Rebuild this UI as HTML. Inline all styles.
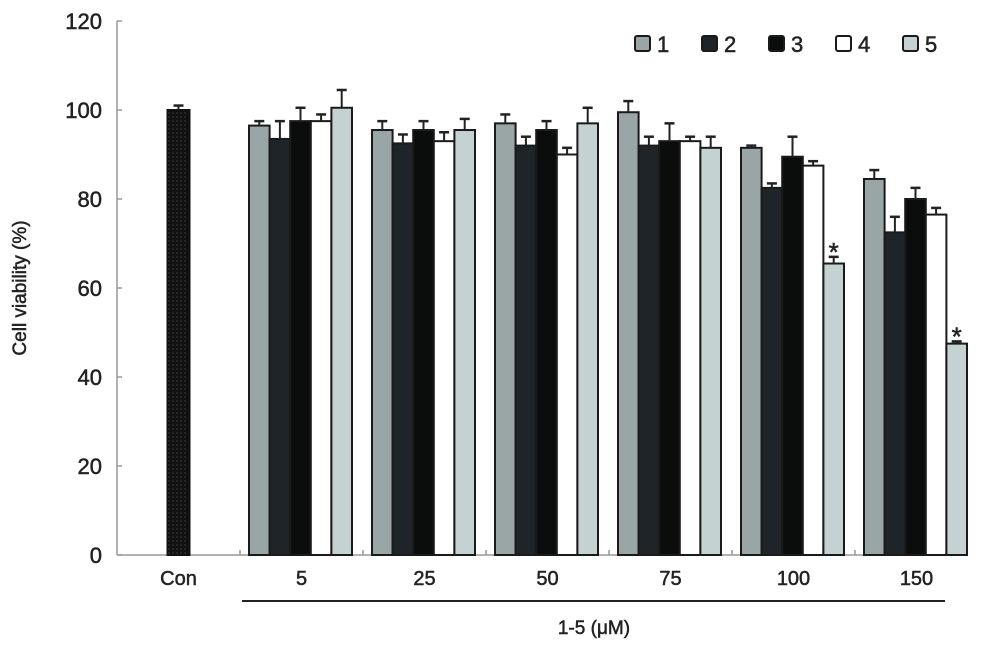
<!DOCTYPE html>
<html><head><meta charset="utf-8"><style>
html,body{margin:0;padding:0;background:#fff}
svg{display:block;font-family:"Liberation Sans",Arial,sans-serif}
svg text{stroke:#222;stroke-width:0.5px}
</style></head><body>
<svg id="chart" width="989" height="649" viewBox="0 0 989 649"></svg>
<script>
const categories=["5","25","50","75","100","150"];
const series1=[96.5,95.5,97,99.5,91.5,84.5];
const series2=[93.5,92.5,92,92,82.5,72.5];
const series3=[97.5,95.5,95.5,93,89.5,80];
const series4=[97.5,93,90,93,87.5,76.5];
const series5=[100.5,95.5,97,91.5,65.5,47.5];
const err1=[1,2,2,2.5,0.5,2];
const err2=[4,2,2,2,1,3.5];
const err3=[3,2,2,4,4.5,2.5];
const err4=[1.5,2,1.5,1,1,1.5];
const err5=[4,2.5,3.5,2.5,1.5,0.5];
const conValue=[100];
const conErr=[1];
const seriesNames=["1","2","3","4","5"];
const yTicks=[0,20,40,60,80,100,120];
const starred=[[4,4],[5,4]];

const NS="http://www.w3.org/2000/svg";
const svg=document.getElementById('chart');
const X0=117,Y0=555,YTOP=21,CAT=123;
function y(v){return Y0-(v/120)*(Y0-YTOP);}
function catX(i){return X0+CAT*(i+1);}
function el(t,a,p){const e=document.createElementNS(NS,t);for(const k in a)e.setAttribute(k,a[k]);(p||svg).appendChild(e);return e;}
const fills=["#9aa6a6","#1e2427","#0b0d0d","#ffffff","#c5d2d2"];
const vals=[series1,series2,series3,series4,series5];
const errs=[err1,err2,err3,err4,err5];

const defs=el('defs',{});
const pat=el('pattern',{id:'dots',width:4,height:4,patternUnits:'userSpaceOnUse'},defs);
el('rect',{width:4,height:4,fill:'#111'},pat);
el('circle',{cx:1,cy:1,r:0.6,fill:'#555'},pat);

const yAxis=el('line',{x1:X0,y1:YTOP,x2:X0,y2:Y0,stroke:'#999','stroke-width':1.5});


const xAxis=el('line',{x1:X0,y1:Y0,x2:965,y2:Y0,stroke:'#999','stroke-width':1.5});


yTicks.forEach(t=>{
  el('line',{x1:X0,x2:X0+5,y1:y(t),y2:y(t),stroke:'#999','stroke-width':1.5});
  const tx=el('text',{x:102,y:y(t)+8,'text-anchor':'end','font-size':22,fill:'#222'});
  tx.textContent=t;
  
  
});
for(let i=1;i<=6;i++){el('line',{x1:X0+CAT*i,x2:X0+CAT*i,y1:Y0,y2:Y0-5,stroke:'#999','stroke-width':1.5});}
const yt=el('text',{x:0,y:0,transform:'translate(26,288) rotate(-90)','text-anchor':'middle','font-size':19,fill:'#222'});
yt.textContent='Cell viability (%)';



function errBar(cx,top,e){
  const h=Y0-y(e);
  el('line',{x1:cx,x2:cx,y1:top,y2:top-h,stroke:'#222','stroke-width':2});
  el('line',{x1:cx-5,x2:cx+5,y1:top-h,y2:top-h,stroke:'#222','stroke-width':2.5});
}
const cx0=X0+CAT/2;
const cb=el('rect',{x:cx0-11,y:y(conValue[0]),width:22,height:Y0-y(conValue[0]),fill:'url(#dots)',stroke:'#111','stroke-width':2});


errBar(cx0,y(conValue[0]),conErr[0]);
const cl=el('text',{x:cx0,y:585,'text-anchor':'middle','font-size':20,fill:'#222'});
cl.textContent='Con';



const BW=20.6;
categories.forEach((c,i)=>{
  const left=catX(i)+9;
  for(let s=0;s<5;s++){
    const v=vals[s][i];
    const bx=left+s*BW;
    const r=el('rect',{x:bx,y:y(v),width:BW,height:Y0-y(v),fill:fills[s],stroke:'#1a1a1a','stroke-width':2});
    
    
    errBar(bx+BW/2,y(v),errs[s][i]);
  }
  const t=el('text',{x:catX(i)+CAT/2,y:585,'text-anchor':'middle','font-size':20,fill:'#222'});
  t.textContent=c;
  
  
});
starred.forEach(([i,s])=>{
  const bx=catX(i)+9+s*BW+BW/2;
  const st=el('text',{x:bx,y:y(vals[s][i]+errs[s][i])+4,'text-anchor':'middle','font-size':26,fill:'#222'});
  st.textContent='*';
  
  
});
const br=el('line',{x1:242,x2:945,y1:601,y2:601,stroke:'#222','stroke-width':2});


const bl=el('text',{x:594,y:634,'text-anchor':'middle','font-size':19,fill:'#222'});
bl.textContent='1-5 (μM)';



const lx=[635,702,769,836,903];
seriesNames.forEach((n,s)=>{
  const g=el('g',{});
  
  
  el('rect',{x:lx[s],y:36,width:15,height:15,rx:2,fill:fills[s],stroke:'#1a1a1a','stroke-width':2},g);
  const t=el('text',{x:lx[s]+22,y:52,'font-size':22,fill:'#222'},g);
  t.textContent=n;
});
</script>
</body></html>
